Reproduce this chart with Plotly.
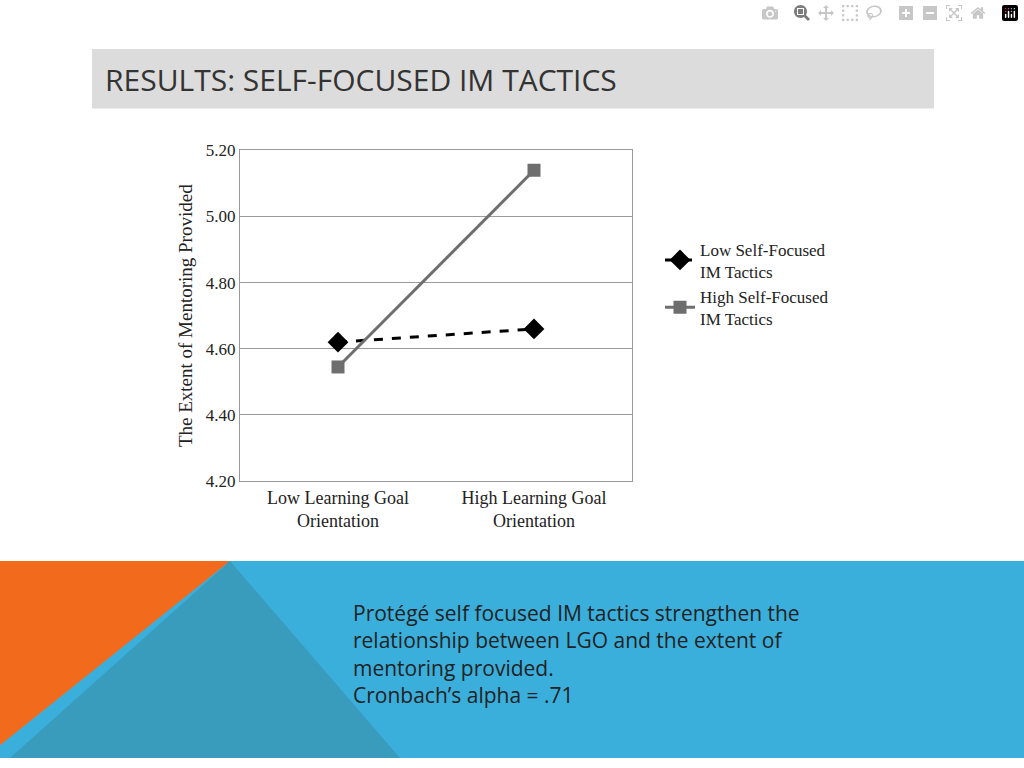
import plotly.graph_objects as go

categories = ["Low Learning Goal<br>Orientation", "High Learning Goal<br>Orientation"]
low_self_focused = [4.62, 4.66]
high_self_focused = [4.545, 5.14]
y_ticks = [4.20, 4.40, 4.60, 4.80, 5.00, 5.20]

serif = "Liberation Serif"
fig = go.Figure()

fig.add_trace(go.Scatter(x=categories, y=low_self_focused, name="Low Self-Focused<br>IM Tactics",
                         mode="lines+markers",
                         line=dict(color="black", width=3, dash="dash"),
                         marker=dict(symbol="diamond", size=16, color="black")))
fig.add_trace(go.Scatter(x=categories, y=high_self_focused, name="High Self-Focused<br>IM Tactics",
                         mode="lines+markers",
                         line=dict(color="#6e6e6e", width=3),
                         marker=dict(symbol="square", size=13, color="#6e6e6e")))

# slide decoration
shapes = [
    dict(type="rect", xref="paper", yref="paper", x0=92/1024, x1=934/1024, y0=1-102/768, y1=1-41/768,
         fillcolor="#dcdcdc", line_width=0, layer="below"),
    dict(type="rect", xref="paper", yref="paper", x0=0, x1=1, y0=0, y1=1-566/768,
         fillcolor="#3aafdc", line_width=0, layer="below"),
    dict(type="path", xref="paper", yref="paper",
         path=f"M 0 {1-566/768} L {230/1024} {1-566/768} L 0 {1-755/768} Z",
         fillcolor="#f26b1d", line_width=0, layer="below"),
    dict(type="path", xref="paper", yref="paper",
         path=f"M {230/1024} {1-566/768} L {400/1024} 0 L {10/1024} 0 Z",
         fillcolor="#3a9cbd", line_width=0, layer="below"),
]

annotations = [
    dict(text="RESULTS: SELF-FOCUSED IM TACTICS", xref="paper", yref="paper",
         x=103/1024, y=1-72/768, xanchor="left", yanchor="middle", showarrow=False,
         font=dict(family="Open Sans", size=30, color="#333333")),
    dict(text="Protégé self focused IM tactics strengthen the<br>relationship between LGO and the extent of"
              "<br>mentoring provided.<br>Cronbach’s alpha = .71",
         xref="paper", yref="paper", x=351/1024, y=1-603/768, xanchor="left", yanchor="top",
         align="left", showarrow=False,
         font=dict(family="Open Sans", size=21, color="#222222")),
]

fig.update_layout(
    width=1024, height=768, margin=dict(l=0, r=0, t=0, b=0),
    paper_bgcolor="white", plot_bgcolor="white",
    shapes=shapes, annotations=annotations,
    xaxis=dict(domain=[240/1024, 632/1024], range=[-0.5, 1.5], showgrid=False,
               showline=True, linecolor="#999999", mirror=True, ticks="",
               tickfont=dict(family=serif, size=18, color="#222222")),
    yaxis=dict(domain=[1-484/768, 1-145/768], range=[4.20, 5.20], tickvals=y_ticks,
               tickformat=".2f", gridcolor="#999999", showline=True, linecolor="#999999",
               mirror=True, zeroline=False, ticks="",
               tickfont=dict(family=serif, size=17, color="#222222"),
               title=dict(text="The Extent of Mentoring Provided",
                          font=dict(family=serif, size=19, color="#222222"), standoff=8)),
    legend=dict(x=660/1024, y=1-228/768, xanchor="left", yanchor="top",
                font=dict(family=serif, size=17, color="#222222"),
                tracegroupgap=18, bgcolor="rgba(0,0,0,0)"),
)

fig.write_html("out.html", post_script="document.body.style.margin='0';document.body.style.padding='0';"
                                       "document.body.style.overflow='hidden';")
